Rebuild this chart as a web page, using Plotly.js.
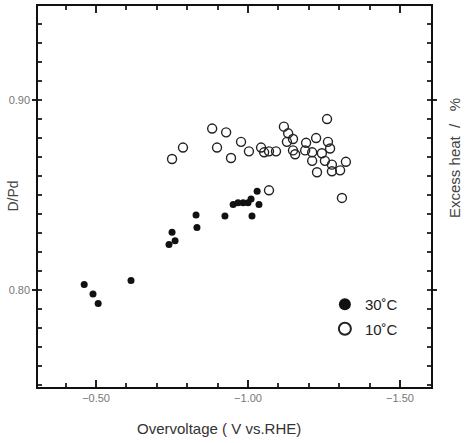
<!DOCTYPE html>
<html>
<head>
<meta charset="utf-8">
<script src="https://cdn.plot.ly/plotly-3.0.1.min.js"></script>
<style>html,body{margin:0;padding:0;background:#fff;}#chart{width:475px;height:443px;}</style>
</head>
<body>
<div id="chart"></div>
<script>
// Series: 30 °C (filled) and 10 °C (open); x = overvoltage (V vs. RHE), y = D/Pd
const seriesNames = ['30˚C', '10˚C'];
const filledX = [-0.461,-0.490,-0.507,-0.615,-0.750,-0.760,-0.740,-0.829,-0.832,-0.924,-0.951,-0.967,-0.984,-1.000,-1.010,-1.030,-1.036,-1.013];
const filledY = [0.803,0.798,0.793,0.805,0.8305,0.826,0.824,0.8395,0.833,0.839,0.845,0.846,0.846,0.846,0.848,0.852,0.845,0.839];
const openX = [-0.750,-0.786,-0.882,-0.928,-0.898,-0.944,-0.977,-1.003,-1.043,-1.053,-1.069,-1.092,-1.118,-1.132,-1.148,-1.128,-1.148,-1.155,-1.191,-1.188,-1.224,-1.211,-1.211,-1.260,-1.263,-1.270,-1.243,-1.253,-1.276,-1.276,-1.303,-1.322,-1.227,-1.069,-1.309];
const openY = [0.869,0.875,0.885,0.883,0.875,0.8695,0.878,0.873,0.875,0.8725,0.873,0.873,0.886,0.8825,0.8795,0.878,0.8735,0.8715,0.8775,0.8735,0.880,0.8725,0.868,0.890,0.878,0.8745,0.872,0.868,0.866,0.8625,0.863,0.8675,0.862,0.8525,0.8485];
const xTickVals = [-0.5, -1.0, -1.5];
const xTickText = ['\u22120.50', '\u22121.00', '\u22121.50'];
const yTickVals = [0.80, 0.90];
const yTickText = ['0.80', '0.90'];
const xTitle = 'Overvoltage ( V vs.RHE)';
const yTitle = 'D/Pd';
const y2Title = 'Excess heat  /   %';

const traces = [
  {x: filledX, y: filledY, name: seriesNames[0], type: 'scatter', mode: 'markers', legendgroup: 'a',
   marker: {symbol: 'circle', size: 7, color: '#111'}},
  {x: openX, y: openY, name: seriesNames[1], type: 'scatter', mode: 'markers', legendgroup: 'b',
   marker: {symbol: 'circle-open', size: 9, color: '#222', line: {width: 1.4, color: '#222'}}}
];

const tickFont = {family: 'Liberation Sans, Arial, sans-serif', size: 11, color: '#777'};

const layout = {
  width: 475, height: 443,
  margin: {l: 38, r: 44, t: 6, b: 56},
  font: {family: 'Liberation Sans, Arial, sans-serif', color: '#222'},
  xaxis: {
    range: [-0.309, -1.602], tickmode: 'array', tickvals: xTickVals, ticktext: xTickText,
    ticks: 'inside', ticklen: 7, tickwidth: 2, tickcolor: '#222',
    showline: true, mirror: 'ticks', linecolor: '#111', linewidth: 1.5,
    showgrid: false, zeroline: false, tickfont: tickFont,
    minor: {tickmode: 'linear', tick0: -0.3, dtick: 0.1, ticks: 'inside', ticklen: 4, tickwidth: 2, tickcolor: '#333', showgrid: false}
  },
  yaxis: {
    range: [0.749, 0.9495], tickmode: 'array', tickvals: yTickVals, ticktext: yTickText,
    ticks: 'outside', ticklen: 4, tickwidth: 2, tickcolor: '#222',
    showline: true, mirror: 'ticks', linecolor: '#111', linewidth: 1.5,
    showgrid: false, zeroline: false, tickfont: tickFont,
    minor: {tickmode: 'linear', tick0: 0.75, dtick: 0.01, ticks: 'inside', ticklen: 4, tickwidth: 2, tickcolor: '#333', showgrid: false}
  },
  showlegend: true,
  legend: {x: 0.73, y: 0.26, xanchor: 'left', yanchor: 'top', bgcolor: 'rgba(0,0,0,0)', tracegroupgap: 2,
    itemsizing: 'constant',
    font: {size: 15, color: '#222', family: 'Liberation Sans, Arial, sans-serif'}},
  annotations: [
    {text: xTitle, xref: 'paper', yref: 'paper', x: 0.46, y: -0.108, showarrow: false,
     font: {size: 15, color: '#333'}, xanchor: 'center', yanchor: 'middle'},
    {text: yTitle, xref: 'paper', yref: 'paper', x: -0.066, y: 0.50, showarrow: false, textangle: -90,
     font: {size: 14, color: '#444'}, xanchor: 'center', yanchor: 'middle'},
    {text: y2Title, xref: 'paper', yref: 'paper', x: 1.06, y: 0.60, showarrow: false, textangle: -90,
     font: {size: 15, color: '#444'}, xanchor: 'center', yanchor: 'middle'}
  ]
};

Plotly.newPlot('chart', traces, layout, {displayModeBar: false});
</script>
</body>
</html>
